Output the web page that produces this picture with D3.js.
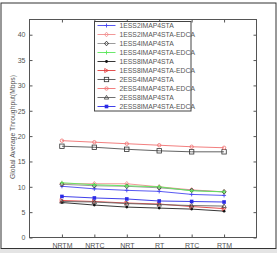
<!DOCTYPE html>
<html>
<head>
<meta charset="utf-8">
<script src="https://cdn.jsdelivr.net/npm/d3@7"></script>
<style>
  body { margin: 0; background: #fff; }
  svg { display: block; }
  text { font-family: "Liberation Sans", Arial, sans-serif; }
</style>
</head>
<body>
<svg width="277" height="253"></svg>
<script>
// data
const categories = ['NRTM', 'NRTC', 'NRT', 'RT', 'RTC', 'RTM'];
const yTicks = [0, 5, 10, 15, 20, 25, 30, 35, 40];

const s1ess2 = [10.1, 9.6, 9.3, 9.1, 8.5, 8.3];
const s1ess2edca = [10.6, 10.6, 10.6, 10.0, 9.4, 9.0];
const s1ess4 = [10.5, 10.2, 10.1, 9.8, 9.3, 9.0];
const s1ess4edca = [10.8, 10.4, 10.2, 10.0, 9.2, 9.0];
const s1ess8 = [6.9, 6.4, 6.0, 5.8, 5.6, 5.2];
const s1ess8edca = [7.3, 7.1, 6.8, 6.6, 6.1, 5.7];
const s2ess4 = [18.0, 17.8, 17.4, 17.1, 16.9, 16.9];
const s2ess4edca = [19.1, 18.8, 18.5, 18.2, 17.9, 17.7];
const s2ess8 = [7.1, 7.0, 6.7, 6.5, 6.3, 6.2];
const s2ess8edca = [8.1, 7.8, 7.6, 7.2, 7.1, 7.0];

const series = [
    { name: '1ESS2IMAP4STA', values: s1ess2, color: '#4646f0', marker: 'plus' },
    { name: '1ESS2IMAP4STA-EDCA', values: s1ess2edca, color: '#f08c8c', marker: 'diamond' },
    { name: '1ESS4IMAP4STA', values: s1ess4, color: '#909090', marker: 'diamondk' },
    { name: '1ESS4IMAP4STA-EDCA', values: s1ess4edca, color: '#5ae65a', marker: 'plus' },
    { name: '1ESS8IMAP4STA', values: s1ess8, color: '#202020', marker: 'dot' },
    { name: '1ESS8IMAP4STA-EDCA', values: s1ess8edca, color: '#e03c3c', marker: 'tri-right' },
    { name: '2ESS4IMAP4STA', values: s2ess4, color: '#505050', marker: 'square' },
    { name: '2ESS4IMAP4STA-EDCA', values: s2ess4edca, color: '#f07070', marker: 'circle' },
    { name: '2ESS8IMAP4STA', values: s2ess8, color: '#606060', marker: 'tri-up' },
    { name: '2ESS8IMAP4STA-EDCA', values: s2ess8edca, color: '#2a2ae6', marker: 'fsquare' }
];

const svg = d3.select('svg');

// outer frame
svg.append('rect')
    .attr('x', 0).attr('y', 249).attr('width', 277).attr('height', 4)
    .attr('fill', '#e4e4e4');
svg.append('rect')
    .attr('x', 1).attr('y', 3).attr('width', 275).attr('height', 245.5)
    .attr('fill', '#fff').attr('stroke', '#333').attr('stroke-width', 1);

const margin = { top: 19.5, left: 29.5, right: 21, bottom: 16 };
const width = 256.5 - margin.left;
const height = 237.5 - margin.top;

const chart = svg.append('g')
    .attr('transform', `translate(${margin.left},${margin.top})`);

const xScale = d3.scaleLinear().domain([0, 7]).range([0, width]);
const yScale = d3.scaleLinear().domain([0, 43]).range([height, 0]);

// axis box
chart.append('rect')
    .attr('width', width).attr('height', height)
    .attr('fill', 'none').attr('stroke', '#555').attr('stroke-width', 1);

// Add the Y Axis (ticks inside, both sides)
const yAxis = chart.append('g')
    .call(d3.axisLeft(yScale).tickValues(yTicks).tickSize(-3).tickPadding(4));
yAxis.select('.domain').remove();
yAxis.selectAll('line').attr('stroke', '#555');
yAxis.selectAll('text').style('font-size', '7px').attr('fill', '#555');

chart.append('g')
    .attr('transform', `translate(${width},0)`)
    .call(d3.axisRight(yScale).tickValues(yTicks).tickSize(-3).tickFormat(''))
    .call(g => g.select('.domain').remove())
    .selectAll('line').attr('stroke', '#555');

// Add the X Axis
const xAxis = chart.append('g')
    .attr('transform', `translate(0,${height})`)
    .call(d3.axisBottom(xScale)
        .tickValues(d3.range(1, categories.length + 1))
        .tickSize(-3).tickPadding(6)
        .tickFormat(i => categories[i - 1]));
xAxis.select('.domain').remove();
xAxis.selectAll('line').attr('stroke', '#555');
xAxis.selectAll('text').style('font-size', '7px').attr('fill', '#555');

chart.append('g')
    .call(d3.axisTop(xScale).tickValues(d3.range(1, categories.length + 1)).tickSize(-3).tickFormat(''))
    .call(g => g.select('.domain').remove())
    .selectAll('line').attr('stroke', '#555');

// y label
svg.append('text')
    .attr('transform', 'translate(15,127) rotate(-90)')
    .style('text-anchor', 'middle')
    .style('font-size', '6.8px')
    .attr('fill', '#555')
    .text('Global Average Throughput(Mbps)');

function drawMarker(g, type, color, x, y) {
    const r = 2;
    if (type === 'plus') {
        g.append('path').attr('d', `M${x - r},${y}H${x + r}M${x},${y - r}V${y + r}`)
            .attr('stroke', color).attr('stroke-width', 0.9).attr('fill', 'none');
    } else if (type === 'diamond' || type === 'diamondk') {
        g.append('path').attr('d', `M${x},${y - 2.3}L${x + 2},${y}L${x},${y + 2.3}L${x - 2},${y}Z`)
            .attr('stroke', type === 'diamondk' ? '#222' : color).attr('stroke-width', 0.8).attr('fill', 'none');
    } else if (type === 'dot') {
        g.append('circle').attr('cx', x).attr('cy', y).attr('r', 1.4).attr('fill', '#111');
    } else if (type === 'tri-right') {
        g.append('path').attr('d', `M${x - 1.8},${y - 2}L${x + 2},${y}L${x - 1.8},${y + 2}Z`)
            .attr('stroke', color).attr('stroke-width', 0.8).attr('fill', 'none');
    } else if (type === 'square') {
        g.append('rect').attr('x', x - 2.2).attr('y', y - 2.2).attr('width', 4.4).attr('height', 4.4)
            .attr('stroke', '#333').attr('stroke-width', 0.8).attr('fill', 'none');
    } else if (type === 'circle') {
        g.append('circle').attr('cx', x).attr('cy', y).attr('r', 1.7)
            .attr('stroke', color).attr('stroke-width', 0.8).attr('fill', 'none');
    } else if (type === 'tri-up') {
        g.append('path').attr('d', `M${x},${y - 2.2}L${x + 2.2},${y + 1.6}L${x - 2.2},${y + 1.6}Z`)
            .attr('stroke', '#444').attr('stroke-width', 0.8).attr('fill', 'none');
    } else if (type === 'fsquare') {
        g.append('rect').attr('x', x - 1.8).attr('y', y - 1.8).attr('width', 3.6).attr('height', 3.6)
            .attr('fill', color);
    }
}

const line = d3.line()
    .x((d, i) => xScale(i + 1))
    .y(d => yScale(d));

series.forEach(function(s) {
    const g = chart.append('g');
    g.append('path')
        .datum(s.values)
        .attr('d', line)
        .attr('fill', 'none')
        .attr('stroke', s.color)
        .attr('stroke-width', 0.9);
    s.values.forEach(function(v, i) {
        drawMarker(g, s.marker, s.color, xScale(i + 1), yScale(v));
    });
});

// legend
const legend = svg.append('g').attr('transform', 'translate(94.5,21.5)');
legend.append('rect')
    .attr('width', 96.5).attr('height', 89.5)
    .attr('fill', '#fff').attr('stroke', '#444').attr('stroke-width', 1);

const item = legend.selectAll('.legend')
    .data(series)
    .enter()
    .append('g')
    .attr('class', 'legend')
    .attr('transform', (d, i) => `translate(0,${4 + i * 9})`);

item.append('line')
    .attr('x1', 3).attr('x2', 21)
    .attr('stroke', d => d.color).attr('stroke-width', 0.9);
item.each(function(d) {
    drawMarker(d3.select(this), d.marker, d.color, 12, 0);
});
item.append('text')
    .attr('x', 25)
    .attr('dy', '0.35em')
    .style('font-size', '6.8px')
    .attr('fill', '#555')
    .text(d => d.name);
</script>
</body>
</html>
